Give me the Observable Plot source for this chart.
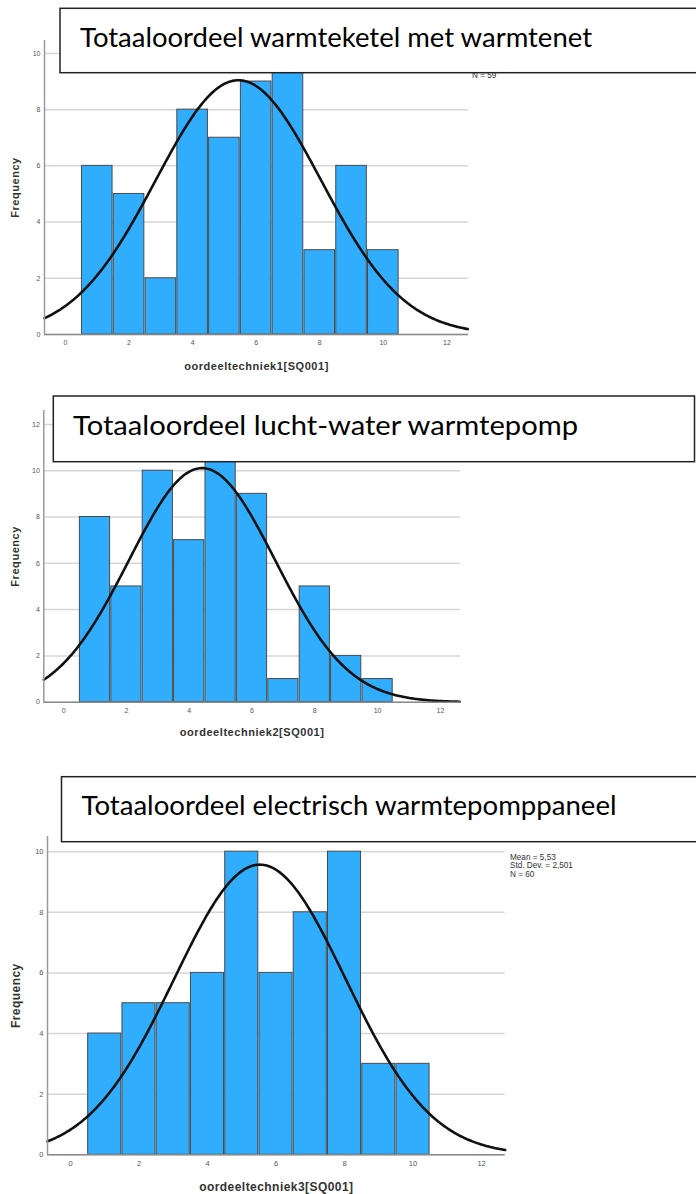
<!DOCTYPE html>
<html><head><meta charset="utf-8">
<script src="https://cdn.jsdelivr.net/npm/d3@7"></script>
<script src="https://cdn.jsdelivr.net/npm/@observablehq/plot@0.6"></script>
<style>
body{margin:0;background:#fff;}
#wrap{position:relative;width:696px;height:1194px;overflow:hidden;background:#fff;}
.panel{position:absolute;left:0;}
#overlay{position:absolute;left:0;top:0;}
</style></head><body><div id="wrap"></div>
<script>
// ---- data ----
const scores = [1, 2, 3, 4, 5, 6, 7, 8, 9, 10];
const freq1 = [6, 5, 2, 8, 7, 9, 10, 3, 6, 3];
const freq2 = [8, 5, 10, 7, 11, 9, 1, 5, 2, 1];
const freq3 = [4, 5, 5, 6, 10, 6, 8, 10, 3, 3];
const means = [5.44, 4.41, 5.53];
const stdDevs = [2.602, 2.328, 2.501];
const counts = [59, 59, 60];
// statistics legends (panel 2's is fully covered by its title box in the reference)
const legendLines = [
  ["Mean = 5,44", "Std. Dev. = 2,602", "N = 59"],
  [],
  ["Mean = 5,53", "Std. Dev. = 2,501", "N = 60"]
];
const xTicks = [0, 2, 4, 6, 8, 10, 12];
const yTicks1 = [0, 2, 4, 6, 8, 10];
const yTicks2 = [0, 2, 4, 6, 8, 10, 12];
const yTicks3 = [0, 2, 4, 6, 8, 10];
const xLabels = ["oordeeltechniek1[SQ001]", "oordeeltechniek2[SQ001]", "oordeeltechniek3[SQ001]"];
const yLabel = "Frequency";
const titles = [
  "Totaaloordeel warmteketel met warmtenet",
  "Totaaloordeel lucht-water warmtepomp",
  "Totaaloordeel electrisch warmtepomppaneel"
];

// ---- layout ----
const layouts = [
  {top: 0, height: 380, ml: 44, mr: 228, mt: 40, mb: 46, xDomain: [-0.66, 12.68], yMax: 10.46, yTicks: yTicks1, freq: freq1,
   tick: 7, lab: 11, ls: "0.55px", xlabDy: 32, ylabDx: -29,
   legend: {x: 472, y: 60.8}, box: {x: 60, y: 8.3, w: 700, h: 64.4, tx: 80, ty: 46.7, tl: 512}},
  {top: 380, height: 360, ml: 43.3, mr: 236, mt: 30, mb: 38.3, xDomain: [-0.63, 12.64], yMax: 12.6, yTicks: yTicks2, freq: freq2,
   tick: 7, lab: 11, ls: "0.55px", xlabDy: 30, ylabDx: -28,
   legend: {x: 468, y: 422}, box: {x: 53.3, y: 396, w: 641.2, h: 65.7, tx: 73, ty: 435, tl: 505}},
  {top: 760, height: 434, ml: 47, mr: 191.3, mt: 76, mb: 39.7, xDomain: [-0.67, 12.69], yMax: 10.5, yTicks: yTicks3, freq: freq3,
   tick: 7.5, lab: 12, ls: "0.45px", xlabDy: 32.4, ylabDx: -31,
   legend: {x: 510, y: 859.5}, box: {x: 61.5, y: 776.7, w: 700, h: 65, tx: 81.5, ty: 815, tl: 535}}
];

const wrap = document.getElementById("wrap");

function normalCurve(mean, sd, n, [x0, x1]) {
  const k = n / (sd * Math.sqrt(2 * Math.PI));
  return d3.range(x0, x1 + 1e-9, 0.04).map(x => ({x, y: k * Math.exp(-((x - mean) ** 2) / (2 * sd * sd))}));
}

layouts.forEach((L, i) => {
  const bars = scores.map((s, j) => ({s, f: L.freq[j]}));
  const curve = normalCurve(means[i], stdDevs[i], counts[i], L.xDomain);
  const chart = Plot.plot({
    width: 696,
    height: L.height,
    marginLeft: L.ml, marginRight: L.mr, marginTop: L.mt, marginBottom: L.mb,
    style: {fontFamily: "'Liberation Sans', Arial, sans-serif", background: "transparent", overflow: "visible"},
    x: {domain: L.xDomain},
    y: {domain: [0, L.yMax]},
    marks: [
      Plot.gridY(L.yTicks, {stroke: "#d6d6d6", strokeOpacity: 1, strokeWidth: 1.5}),
      Plot.rectY(bars, {x1: d => d.s - 0.5, x2: d => d.s + 0.5, y: "f", fill: "#31adfd", stroke: "#4a4a4a", strokeWidth: 1, insetLeft: 0.6, insetRight: 0.6}),
      Plot.line(curve, {x: "x", y: "y", stroke: "#111", strokeWidth: 2.6}),
      Plot.ruleX([L.xDomain[0]], {stroke: "#9a9a9a", strokeWidth: 1.5}),
      Plot.ruleY([0], {stroke: "#8a8a8a", strokeWidth: 1.5}),
      Plot.axisX(xTicks, {tickSize: 0, tickPadding: 6, fontSize: L.tick, fill: "#555", label: null}),
      Plot.axisY(L.yTicks, {tickSize: 0, tickPadding: 4, fontSize: L.tick, fill: "#555", label: null}),
      Plot.text([xLabels[i]], {text: d => d, frameAnchor: "bottom", dy: L.xlabDy, lineAnchor: "middle", textAnchor: "middle", fontSize: L.lab, fontWeight: "bold", fill: "#333"}),
      Plot.text([yLabel], {text: d => d, frameAnchor: "left", dx: L.ylabDx, rotate: -90, textAnchor: "middle", lineAnchor: "middle", fontSize: L.lab, fontWeight: "bold", fill: "#333"})
    ]
  });
  chart.classList.add("panel");
  chart.style.top = L.top + "px";
  chart.querySelectorAll("text").forEach(t => {
    if (xLabels.includes(t.textContent) || t.textContent === yLabel) t.style.letterSpacing = L.ls;
  });
  wrap.appendChild(chart);
});

// ---- overlay: statistics legend and title boxes ----
const ov = d3.select(wrap).append("svg").attr("id", "overlay").attr("width", 696).attr("height", 1194);
layouts.forEach((L, i) => {
  legendLines[i].forEach((t, j) => {
    ov.append("text").attr("x", L.legend.x).attr("y", L.legend.y + j * 8.6)
      .attr("font-family", "'Liberation Sans Narrow', 'Liberation Sans', Arial, sans-serif")
      .attr("font-size", 8.2).attr("fill", "#333").text(t);
  });
});
layouts.forEach((L, i) => {
  const b = L.box;
  ov.append("rect").attr("x", b.x).attr("y", b.y).attr("width", b.w).attr("height", b.h)
    .attr("fill", "#fff").attr("stroke", "#222").attr("stroke-width", 1.5);
  ov.append("text").attr("x", b.tx).attr("y", b.ty)
    .attr("font-family", "Lato, 'Open Sans', sans-serif").attr("font-size", 26.5).attr("fill", "#000")
    .attr("textLength", b.tl).attr("lengthAdjust", "spacingAndGlyphs")
    .text(titles[i]);
});
</script>
</body></html>
